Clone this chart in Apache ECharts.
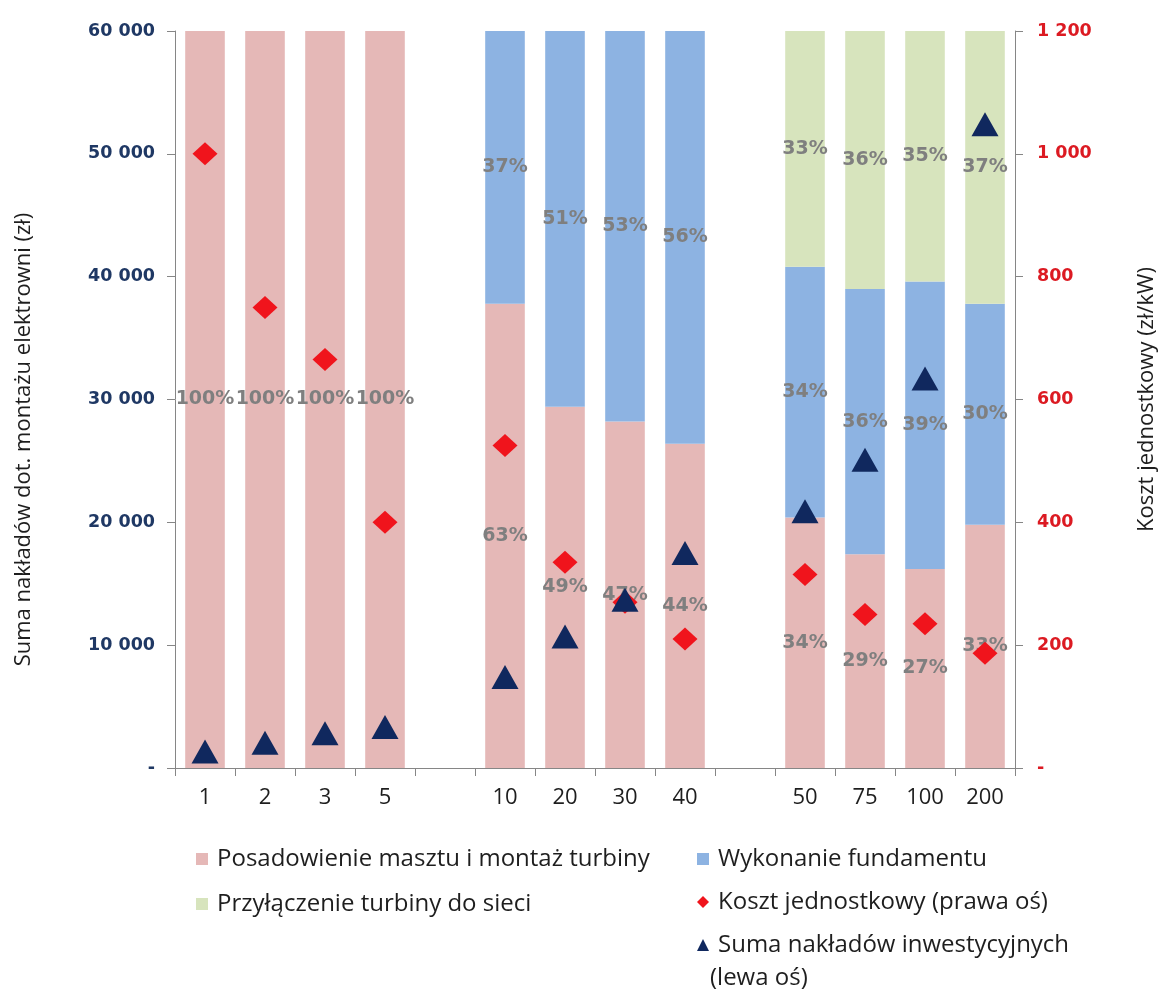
<!DOCTYPE html>
<html>
<head>
<meta charset="utf-8">
<script src="https://cdn.jsdelivr.net/npm/echarts@6/dist/echarts.min.js"></script>
<style>
  html, body { margin: 0; padding: 0; background: #ffffff; }
  #chart { width: 1166px; height: 992px; }
</style>
</head>
<body>
<div id="chart"></div>
<script>
// Turbine capacity classes (kW); empty entries separate the three groups
const categories = ['1', '2', '3', '5', '', '10', '20', '30', '40', '', '50', '75', '100', '200'];

// Cost structure, % of the total
const shareMast = [100, 100, 100, 100, null, 63, 49, 47, 44, null, 34, 29, 27, 33];
const shareFoundation = [null, null, null, null, null, 37, 51, 53, 56, null, 34, 36, 39, 30];
const shareGrid = [null, null, null, null, null, null, null, null, null, null, 33, 36, 35, 37];

// Unit cost (zł/kW), right axis
const unitCost = [1000, 750, 665, 400, null, 525, 335, 270, 210, null, 315, 250, 235, 187];
// Total investment outlay (zł), left axis
const totalOutlay = [1340, 2060, 2820, 3330, null, 7400, 10700, 13700, 17500, null, 20900, 25100, 31700, 52400];

// Tick labels
const leftTickLabels = ['-', '10 000', '20 000', '30 000', '40 000', '50 000', '60 000'];
const rightTickLabels = ['-', '200', '400', '600', '800', '1 000', '1 200'];

const NAMES = {
  mast: 'Posadowienie masztu i montaż turbiny',
  foundation: 'Wykonanie fundamentu',
  grid: 'Przyłączenie turbiny do sieci',
  unit: 'Koszt jednostkowy (prawa oś)',
  total: 'Suma nakładów inwestycyjnych'
};

const COLORS = {
  mast: '#e5b8b7',
  foundation: '#8db3e2',
  grid: '#d7e4bd',
  unit: '#f0141c',
  total: '#10285e',
  axis: '#868686',
  text: '#1e1e1e'
};

const textFont = 'Open Sans';
const boldFont = 'DejaVu Sans';

const toSeriesData = arr => arr.map(v => (v == null ? '-' : v));

const shareLabel = {
  show: true,
  position: 'inside',
  formatter: p => p.value + '%',
  color: '#7f7f7f',
  fontFamily: boldFont,
  fontWeight: 'bold',
  fontSize: 19
};

const barSeries = (name, values, color) => ({
  name: name,
  type: 'bar',
  stack: 'share',
  yAxisIndex: 2,
  barCategoryGap: '34%',
  data: toSeriesData(values),
  itemStyle: { color: color },
  label: shareLabel,
  z: 2
});

const legendText = { color: COLORS.text, fontFamily: textFont, fontSize: 24, lineHeight: 24, padding: [0, 0, 0, 4] };

const chart = echarts.init(document.getElementById('chart'));

chart.setOption({
  animation: false,
  backgroundColor: '#ffffff',
  grid: { left: 175, right: 149, top: 31, bottom: 224 },
  xAxis: {
    type: 'category',
    data: categories,
    boundaryGap: true,
    axisLine: { lineStyle: { color: COLORS.axis, width: 1 } },
    axisTick: { show: true, length: 8, lineStyle: { color: COLORS.axis } },
    axisLabel: { interval: 0, color: COLORS.text, fontFamily: textFont, fontSize: 22, margin: 19 },
    splitLine: { show: false }
  },
  yAxis: [
    {
      type: 'value',
      position: 'left',
      min: 0,
      max: 60000,
      interval: 10000,
      splitLine: { show: false },
      axisLine: { show: true, lineStyle: { color: COLORS.axis } },
      axisTick: { show: true, length: 8, lineStyle: { color: COLORS.axis } },
      axisLabel: {
        formatter: (v, i) => leftTickLabels[i],
        color: '#1f3864',
        fontFamily: boldFont,
        fontWeight: 'bold',
        fontSize: 17.5,
        margin: 20
      },
      name: 'Suma nakładów dot. montażu elektrowni (zł)',
      nameLocation: 'middle',
      nameRotate: 90,
      nameGap: 140,
      nameTextStyle: { color: COLORS.text, fontFamily: textFont, fontSize: 22, padding: [0, 80, 0, 0] }
    },
    {
      type: 'value',
      position: 'right',
      min: 0,
      max: 1200,
      interval: 200,
      splitLine: { show: false },
      axisLine: { show: true, lineStyle: { color: COLORS.axis } },
      axisTick: { show: true, length: 8, lineStyle: { color: COLORS.axis } },
      axisLabel: {
        formatter: (v, i) => rightTickLabels[i],
        color: '#dc1a22',
        fontFamily: boldFont,
        fontWeight: 'bold',
        fontSize: 17.5,
        margin: 22
      },
      name: 'Koszt jednostkowy (zł/kW)',
      nameLocation: 'middle',
      nameRotate: 90,
      nameGap: 121,
      nameTextStyle: { color: COLORS.text, fontFamily: textFont, fontSize: 22 }
    },
    {
      type: 'value',
      show: false,
      min: 0,
      max: 100
    }
  ],
  legend: [
    {
      data: [
        { name: NAMES.mast, icon: 'rect' },
        { name: NAMES.grid, icon: 'rect' }
      ],
      orient: 'vertical',
      left: 191,
      top: 842,
      itemWidth: 12,
      itemHeight: 12,
      itemGap: 21,
      selectedMode: false,
      textStyle: legendText
    },
    {
      data: [
        { name: NAMES.foundation, icon: 'rect' },
        { name: NAMES.unit, icon: 'diamond' },
        { name: NAMES.total, icon: 'triangle' }
      ],
      orient: 'vertical',
      left: 692,
      top: 842,
      itemWidth: 12,
      itemHeight: 12,
      itemGap: 19,
      selectedMode: false,
      textStyle: legendText
    }
  ],
  graphic: [
    {
      type: 'text',
      left: 710,
      top: 966,
      style: { text: '(lewa oś)', font: '24px "Open Sans"', fill: COLORS.text }
    }
  ],
  series: [
    barSeries(NAMES.mast, shareMast, COLORS.mast),
    barSeries(NAMES.foundation, shareFoundation, COLORS.foundation),
    barSeries(NAMES.grid, shareGrid, COLORS.grid),
    {
      name: NAMES.unit,
      type: 'scatter',
      yAxisIndex: 1,
      symbol: 'diamond',
      symbolSize: [25, 23],
      data: toSeriesData(unitCost),
      itemStyle: { color: COLORS.unit, opacity: 1 },
      z: 4
    },
    {
      name: NAMES.total,
      type: 'scatter',
      yAxisIndex: 0,
      symbol: 'triangle',
      symbolSize: [27, 24],
      data: toSeriesData(totalOutlay),
      itemStyle: { color: COLORS.total, opacity: 1 },
      z: 5
    }
  ]
});
</script>
</body>
</html>
